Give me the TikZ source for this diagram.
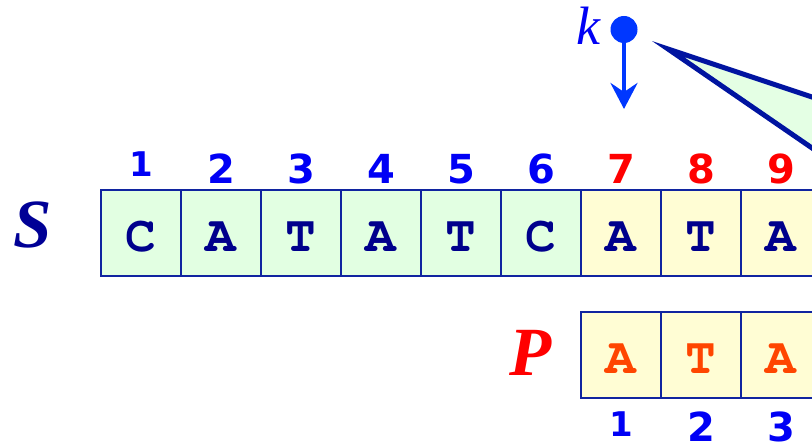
\documentclass[tikz,border=0pt]{standalone}
\usepackage[T1]{fontenc}
\usepackage{fontspec}
\usetikzlibrary{arrows.meta}
\newfontfamily\numfont{DejaVu Sans}
\newfontfamily\serifbi{Liberation Serif}
\definecolor{cellgreen}{RGB}{226,255,226}
\definecolor{cellyellow}{RGB}{255,253,212}
\definecolor{cellborder}{RGB}{16,36,160}
\definecolor{navyletter}{RGB}{0,0,140}
\definecolor{orangeletter}{RGB}{255,69,0}
\definecolor{numblue}{RGB}{0,0,245}
\definecolor{numred}{RGB}{255,0,0}
\definecolor{labnavy}{RGB}{0,0,150}
\definecolor{dotblue}{RGB}{0,55,255}
\definecolor{trifill}{RGB}{228,255,228}
\definecolor{triborder}{RGB}{0,20,160}
\newcommand{\cellfont}{\fontencoding{T1}\fontfamily{pcr}\fontseries{b}\fontshape{n}\fontsize{51}{51}\selectfont}
\begin{document}
\begin{tikzpicture}[x=1pt,y=-1pt,
  cell/.style={draw=cellborder, line width=2pt, minimum width=80pt, minimum height=86pt,
    inner sep=0pt, text height=38pt, text depth=0pt, font=\cellfont},
  gcell/.style={cell, fill=cellgreen, text=navyletter},
  ycell/.style={cell, fill=cellyellow, text=navyletter},
  pcell/.style={cell, fill=cellyellow, text=orangeletter},
  num/.style={anchor=base, inner sep=0pt, font=\numfont\bfseries\fontsize{40}{40}\selectfont},
  numsmall/.style={num, font=\numfont\bfseries\fontsize{34}{34}\selectfont},
  biglab/.style={anchor=base, inner sep=0pt, font=\serifbi\bfseries\itshape\fontsize{69}{69}\selectfont},
  wedge/.style={draw=triborder, fill=trifill, line width=5pt, line join=miter},
  dotnode/.style={circle, fill=dotblue, minimum size=27pt, inner sep=0pt},
  karrow/.style={draw=dotblue, line width=4.5pt, -{Stealth[length=26pt, width=27pt, inset=9pt]}}
]
\path[use as bounding box, clip] (0,0) rectangle (812,446);

% wedge
\filldraw[wedge] (668,49) -- (900,126.3) -- (900,208.5) -- cycle;

% k pointer
\node[anchor=base, inner sep=0pt, text=numblue, font=\serifbi\itshape\fontsize{54}{54}\selectfont] (klab) at (588,45) {k};
\node[dotnode] (kdot) at (624,29.5) {};
\coordinate (ktip) at (624,109);
\draw[karrow] (kdot.center) -- (ktip);

% S row
\node[biglab, text=labnavy] (slab) at (33,248) {S};
\node[gcell] (s1) at (141,233) {C};
\node[gcell] (s2) at (221,233) {A};
\node[gcell] (s3) at (301,233) {T};
\node[gcell] (s4) at (381,233) {A};
\node[gcell] (s5) at (461,233) {T};
\node[gcell] (s6) at (541,233) {C};
\node[ycell] (s7) at (621,233) {A};
\node[ycell] (s8) at (701,233) {T};
\node[ycell] (s9) at (781,233) {A};

% S indices
\node[numsmall, text=numblue] (n1) at (141,177) {1};
\node[num, text=numblue] (n2) at (221,184) {2};
\node[num, text=numblue] (n3) at (301,184) {3};
\node[num, text=numblue] (n4) at (381,184) {4};
\node[num, text=numblue] (n5) at (461,184) {5};
\node[num, text=numblue] (n6) at (541,184) {6};
\node[num, text=numred] (n7) at (621,184) {7};
\node[num, text=numred] (n8) at (701,184) {8};
\node[num, text=numred] (n9) at (781,184) {9};

% P row
\node[biglab, text=numred] (plab) at (531,376) {P};
\node[pcell] (p1) at (621,355) {A};
\node[pcell] (p2) at (701,355) {T};
\node[pcell] (p3) at (781,355) {A};

% P indices
\node[numsmall, text=numblue] (m1) at (621,437) {1};
\node[num, text=numblue] (m2) at (701,442) {2};
\node[num, text=numblue] (m3) at (781,442) {3};
\end{tikzpicture}
\end{document}
